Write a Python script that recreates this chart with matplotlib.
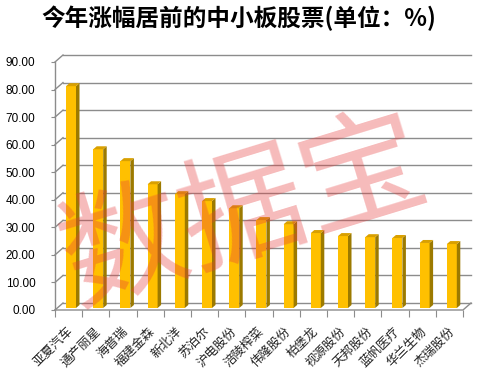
import matplotlib
matplotlib.use("Agg")
import matplotlib.pyplot as plt
from matplotlib.patches import Polygon
import numpy as np

plt.rcParams['font.family'] = ['Noto Sans CJK SC', 'DejaVu Sans']

# data
stocks = ["亚夏汽车", "通产丽星", "海普瑞", "福建金森", "新北洋", "苏泊尔", "沪电股份",
          "涪陵榨菜", "伟隆股份", "柏堡龙", "视源股份", "天邦股份", "蓝帆医疗",
          "华兰生物", "杰瑞股份"]
gains = [80.5, 57.6, 53.3, 44.9, 41.3, 38.8, 36.2, 31.9, 30.4, 27.2, 26.1, 25.7, 25.4, 23.6, 23.2]
yticks = np.arange(0, 91, 10)
title = "今年涨幅居前的中小板股票(单位：%)"

W, H = 478, 382
fig = plt.figure(figsize=(W / 100, H / 100), dpi=100)
# front plane of the 3d box: x 55..463 px, y 310..62 px
ax = fig.add_axes([55 / W, (H - 310) / H, 408 / W, 248 / H])
n = len(stocks)
ax.set_xlim(0, n)
ax.set_ylim(0, 90)

px_x = 408 / n        # pixels per category
px_y = 248 / 90       # pixels per unit
wdx, wdy = 8 / px_x, 7 / px_y          # wall depth
bdx, bdy = 3.5 / px_x, 3 / px_y        # bar depth
boff, bw, b0 = 11 / px_x, 10 / px_x, 2 / px_y

grid_c = "#8c8c8c"
for v in yticks:
    ax.plot([wdx, n + wdx], [v + wdy, v + wdy], color=grid_c, lw=1, clip_on=False, zorder=1)
    ax.plot([0, wdx], [v, v + wdy], color=grid_c, lw=1, clip_on=False, zorder=1)
# floor edges
ax.plot([0, n, n + wdx], [0, 0, wdy], color=grid_c, lw=1, clip_on=False, zorder=1)

# bars: front, side, top
x = np.arange(n) + boff
ax.bar(x, gains, width=bw, bottom=b0, align='edge', color="#FFC000",
       edgecolor="none", zorder=3)
for xi, g in zip(x, gains):
    top = b0 + g
    side = Polygon([(xi + bw, b0), (xi + bw, top), (xi + bw + bdx, top + bdy), (xi + bw + bdx, b0 + bdy)],
                   closed=True, facecolor="#9c7a00", edgecolor="none", zorder=3)
    cap = Polygon([(xi, top), (xi + bw, top), (xi + bw + bdx, top + bdy), (xi + bdx, top + bdy)],
                  closed=True, facecolor="#d9a000", edgecolor="none", zorder=3)
    ax.add_patch(side)
    ax.add_patch(cap)

for s in ["top", "right", "bottom"]:
    ax.spines[s].set_visible(False)
ax.spines["left"].set_color(grid_c)
ax.spines["left"].set_linewidth(1)

ax.set_yticks(yticks)
ax.set_yticklabels([f"{v:.2f}" for v in yticks], family="Liberation Sans", fontsize=8.5)
ax.tick_params(axis="y", length=3, color=grid_c, pad=11)

ax.set_xticks(np.arange(n + 1))
ax.set_xticklabels([])
ax.tick_params(axis="x", which="major", length=5, color=grid_c, direction="out")
ax.set_xticks(np.arange(n) + 0.6, minor=True)
ax.set_xticklabels(stocks, minor=True, rotation=45, ha="right", va="center",
                   rotation_mode="anchor", fontsize=9, color="#222222")
ax.tick_params(axis="x", which="minor", length=0, pad=14)

fig.text(0.5, 0.953, title, ha="center", va="center", fontsize=17, fontweight="bold")

# watermark
fig.text(0.51, 0.44, "数据宝", ha="center", va="center", fontsize=90, rotation=17,
         color="#e63c3c", alpha=0.35, zorder=10)

fig.savefig("out.png", dpi=100)
